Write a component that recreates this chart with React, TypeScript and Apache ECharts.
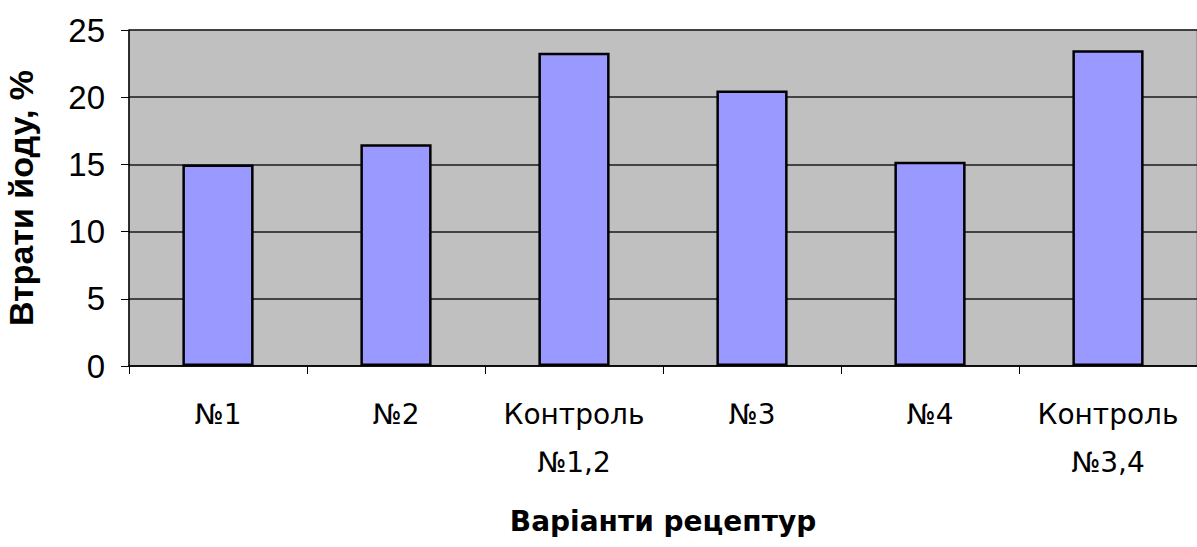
import React, { useEffect, useRef } from "react";
import * as echarts from "echarts";

const categories = ["№1", "№2", "Контроль\n№1,2", "№3", "№4", "Контроль\n№3,4"];
const losses = [15.0, 16.5, 23.3, 20.5, 15.2, 23.5];
const yTicks = { min: 0, max: 25, interval: 5 };
const yAxisTitle = "Втрати йоду, %";
const xAxisTitle = "Варіанти рецептур";

export default function App() {
  const ref = useRef<HTMLDivElement>(null);
  useEffect(() => {
    if (!ref.current) return;
    const chart = echarts.init(ref.current, null, { renderer: "svg" });
    const arial = "Arial, 'Liberation Sans', sans-serif";
    const wide = "'DejaVu Sans', Arial, sans-serif";
    chart.setOption({
      animation: false,
      backgroundColor: "#ffffff",
      grid: {
        left: 129, top: 30, right: 0, bottom: 181,
        containLabel: false, outerBoundsMode: "none",
        show: true, backgroundColor: "#c0c0c0", borderColor: "#808080", borderWidth: 1,
      },
      xAxis: {
        type: "category",
        data: categories,
        name: xAxisTitle,
        nameLocation: "middle",
        nameGap: 141,
        nameTextStyle: { fontFamily: wide, fontSize: 28, fontWeight: "bold", color: "#000" },
        axisLine: { show: true, lineStyle: { color: "#000", width: 1.5 } },
        axisTick: { show: true, length: 8, lineStyle: { color: "#000" } },
        axisLabel: { fontFamily: wide, fontSize: 28, color: "#000", margin: 24, lineHeight: 48, interval: 0 },
        splitLine: { show: false },
      },
      yAxis: {
        type: "value",
        min: yTicks.min,
        max: yTicks.max,
        interval: yTicks.interval,
        name: yAxisTitle,
        nameLocation: "middle",
        nameGap: 91,
        nameTextStyle: { fontFamily: arial, fontSize: 34, fontWeight: "bold", color: "#000" },
        axisLine: { show: true, lineStyle: { color: "#000", width: 1.5 } },
        axisTick: { show: true, length: 8, lineStyle: { color: "#000" } },
        axisLabel: { fontFamily: arial, fontSize: 33, color: "#000", margin: 24 },
        splitLine: { show: true, lineStyle: { color: "#1a1a1a", width: 1.5 } },
      },
      series: [
        {
          type: "bar",
          data: losses,
          barWidth: "40%",
          itemStyle: { color: "#9999ff", borderColor: "#000", borderWidth: 2.5 },
        },
      ],
    });
    return () => chart.dispose();
  }, []);
  return <div ref={ref} style={{ position: "fixed", left: 0, top: 0, width: 1197, height: 547 }} />;
}
